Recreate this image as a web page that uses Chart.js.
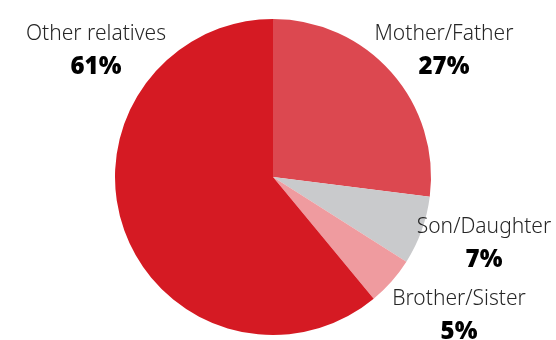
<!DOCTYPE html>
<html>
<head>
<meta charset="utf-8">
<script src="https://cdn.jsdelivr.net/npm/chart.js@4/dist/chart.umd.min.js"></script>
<style>
  html, body { margin: 0; padding: 0; background: #fff; }
  #pie { display: block; }
</style>
</head>
<body>
<canvas id="pie" width="556" height="340"></canvas>
<script>
// slices go clockwise from 12 o'clock
const labels = ['Mother/Father', 'Son/Daughter', 'Brother/Sister', 'Other relatives'];
const shares = [27, 7, 5, 61];
const colors = ['#dc4850', '#c9cacc', '#ef9b9f', '#d51a23'];

// where each caption sits (centre x, baseline of the name line)
const captionPos = [
  { x: 444, y: 40 },
  { x: 484, y: 233 },
  { x: 459, y: 305 },
  { x: 96,  y: 40 },
];

const captions = {
  id: 'captions',
  afterDraw(chart) {
    const ctx = chart.ctx;
    ctx.save();
    ctx.textAlign = 'center';
    ctx.textBaseline = 'alphabetic';
    labels.forEach((name, i) => {
      const p = captionPos[i];
      ctx.fillStyle = '#262626';
      ctx.font = '300 21px "Noto Sans", sans-serif';
      ctx.fillText(name, p.x, p.y);
      ctx.fillStyle = '#000';
      ctx.font = '900 24px "Noto Sans", sans-serif';
      ctx.fillText(shares[i] + '%', p.x, p.y + 34);
    });
    ctx.restore();
  }
};

new Chart(document.getElementById('pie'), {
  type: 'pie',
  data: {
    labels: labels,
    datasets: [{ data: shares, backgroundColor: colors, borderWidth: 0 }]
  },
  options: {
    responsive: false,
    animation: false,
    layout: { padding: { top: 19, bottom: 5, left: 0, right: 10 } },
    plugins: { legend: { display: false }, tooltip: { enabled: false } }
  },
  plugins: [captions]
});
</script>
</body>
</html>
